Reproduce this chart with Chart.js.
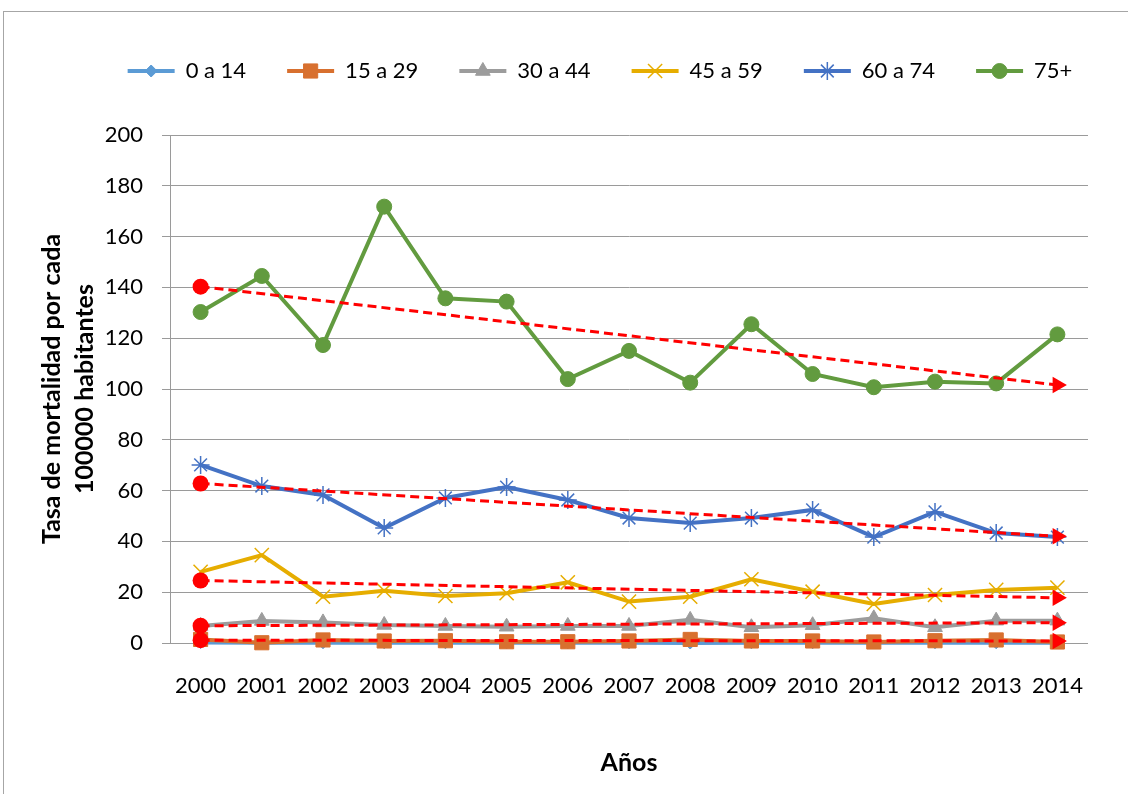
<!DOCTYPE html>
<html><head><meta charset="utf-8">
<script src="https://cdn.jsdelivr.net/npm/chart.js@4/dist/chart.umd.min.js"></script>
<style>html,body{margin:0;padding:0;background:#fff;}canvas{display:block;}</style>
</head><body>
<canvas id="c" width="1128" height="794"></canvas>
<script>
const years = ['2000','2001','2002','2003','2004','2005','2006','2007','2008','2009','2010','2011','2012','2013','2014'];
const seriesNames = ['0 a 14','15 a 29','30 a 44','45 a 59','60 a 74','75+'];
const age0_14  = [0.2,0.1,0.1,0.1,0.1,0.1,0.1,0.1,0.0,0.1,0.1,0.1,0.1,0.1,0.1];
const age15_29 = [1.4,0.1,1.2,0.8,0.9,0.5,0.5,0.8,1.4,0.8,0.8,0.4,0.9,1.2,0.4];
const age30_44 = [6.7,8.7,8.1,7.1,6.7,6.4,6.7,6.7,9.1,6.2,7.0,9.7,6.2,8.8,8.8];
const age45_59 = [28.0,34.6,18.2,20.6,18.5,19.6,23.9,16.3,18.2,25.1,20.2,15.4,18.9,20.9,21.8];
const age60_74 = [70.1,61.8,58.3,45.3,57.1,61.4,56.3,49.2,47.2,49.2,52.4,41.7,51.6,43.3,41.7];
const age75p   = [130.3,144.5,117.3,171.8,135.7,134.4,103.9,115.0,102.5,125.5,105.9,100.7,102.9,102.2,121.5];
// trend lines (15 a 29, 30 a 44, 45 a 59, 60 a 74, 75+): value at 2000 and at 2014
const trendStart = [1.1, 6.8, 24.6, 62.8, 140.3];
const trendEnd   = [0.8, 8.0, 17.8, 42.0, 101.6];
const yTicksMax = 200, yTicksStep = 20;

const seriesData = [age0_14, age15_29, age30_44, age45_59, age60_74, age75p];
const colors = ['#5B9BD5','#D8702F','#9C9C9C','#E6AD00','#4472C4','#629B3F'];
const styles = [
  {pointStyle:'rectRot', radius:6, bw:1},
  {pointStyle:'rect', radius:10, bw:1},
  {pointStyle:'triangle', radius:8.5, bw:1},
  {pointStyle:'crossRot', radius:10, bw:1.5},
  {pointStyle:'star', radius:9, bw:1.5},
  {pointStyle:'circle', radius:7.5, bw:1}
];
const FONT = 'Lato, "Open Sans", sans-serif';

const datasets = seriesData.map((d, i) => ({
  label: seriesNames[i],
  data: d,
  borderColor: colors[i],
  backgroundColor: colors[i],
  borderWidth: 4,
  pointStyle: styles[i].pointStyle,
  pointRadius: styles[i].radius,
  pointBorderWidth: styles[i].bw,
  pointBackgroundColor: colors[i],
  pointBorderColor: colors[i],
  tension: 0,
  clip: false,
  order: 6 - i
}));
trendStart.forEach((s, k) => {
  const arr = years.map(() => null);
  arr[0] = s; arr[years.length - 1] = trendEnd[k];
  datasets.push({
    label: 'trend' + k,
    data: arr,
    spanGaps: true,
    borderColor: '#FF0000',
    backgroundColor: '#FF0000',
    borderWidth: 3,
    borderDash: [9, 5],
    pointStyle: arr.map((v, j) => j === 0 ? 'circle' : 'triangle'),
    pointRadius: arr.map((v, j) => j === 0 ? 8 : 9.5),
    pointRotation: arr.map((v, j) => j === 0 ? 0 : 90),
    pointBackgroundColor: '#FF0000',
    pointBorderColor: '#FF0000',
    pointBorderWidth: 0,
    clip: false,
    order: 0
  });
});

const framePlugin = {
  id: 'frame',
  beforeDraw(chart) {
    const ctx = chart.ctx;
    ctx.save();
    ctx.fillStyle = '#fff';
    ctx.fillRect(0, 0, chart.width, chart.height);
    ctx.strokeStyle = '#A6A6A6';
    ctx.lineWidth = 1;
    ctx.strokeRect(3.5, 11.5, 1300, 900);
    ctx.restore();
  }
};
const legendMarkers = {
  id: 'legendMarkers',
  afterDraw(chart) {
    const lg = chart.legend;
    if (!lg || !lg.legendHitBoxes || !Chart.helpers || !Chart.helpers.drawPoint) return;
    const ctx = chart.ctx;
    const bw = lg.options.labels.boxWidth;
    lg.legendItems.forEach((item, i) => {
      const hb = lg.legendHitBoxes[i];
      const st = styles[item.datasetIndex];
      ctx.save();
      ctx.fillStyle = colors[item.datasetIndex];
      ctx.strokeStyle = colors[item.datasetIndex];
      ctx.lineWidth = st.bw;
      Chart.helpers.drawPoint(ctx, {pointStyle: st.pointStyle, radius: st.radius, rotation: 0, borderWidth: st.bw},
        hb.left + bw / 2, hb.top + hb.height / 2);
      ctx.restore();
    });
  }
};

new Chart(document.getElementById('c'), {
  type: 'line',
  data: { labels: years, datasets },
  plugins: [framePlugin, legendMarkers],
  options: {
    responsive: false,
    animation: false,
    devicePixelRatio: 1,
    layout: { padding: { left: 81, right: 9, top: 19, bottom: 0 } },
    plugins: {
      tooltip: { enabled: false },
      legend: {
        position: 'top',
        weight: 3000,
        labels: {
          font: { family: FONT, size: 22 },
          color: '#000',
          boxWidth: 47,
          boxHeight: 4,
          padding: 41,
          filter: (item) => item.datasetIndex < seriesNames.length,
          sort: (a, b) => a.datasetIndex - b.datasetIndex,
          generateLabels: (chart) => Chart.defaults.plugins.legend.labels.generateLabels(chart).map(l => {
            l.fillStyle = colors[l.datasetIndex] || '#f00';
            l.strokeStyle = colors[l.datasetIndex] || '#f00';
            l.lineWidth = 0;
            l.lineDash = [];
            return l;
          })
        }
      },
      title: {
        display: true,
        text: '',
        weight: 2000,
        font: { size: 10, lineHeight: 1.2 },
        padding: { top: 31, bottom: 0 }
      }
    },
    scales: {
      x: {
        offset: true,
        grid: { display: false },
        border: { display: false },
        ticks: { font: { family: FONT, size: 22 }, color: '#000', padding: 21.5, maxRotation: 0, autoSkip: false },
        title: {
          display: true, text: 'Años', color: '#000',
          font: { family: FONT, size: 25, weight: 'bold', lineHeight: 1.2 },
          padding: { top: 0, bottom: 16 }
        },
        afterFit: (s) => { s.height = 151; }
      },
      y: {
        min: 0, max: yTicksMax,
        ticks: { stepSize: yTicksStep, font: { family: FONT, size: 22 }, color: '#000', padding: 19 },
        grid: { color: '#9A9A9A', lineWidth: 1, tickLength: 8, drawTicks: true },
        border: { display: true, color: '#9A9A9A', width: 1 },
        title: {
          display: true, text: ['Tasa de mortalidad por cada', '100000 habitantes'], color: '#000',
          font: { family: FONT, size: 25, weight: 'bold', lineHeight: 33 / 25 },
          padding: { top: -45.5, bottom: 0 }
        },
        afterFit: (s) => { s.width = 89; }
      },
      yRightSpacer: {
        type: 'linear',
        position: 'right',
        display: true,
        min: 0, max: yTicksMax,
        ticks: { display: false },
        grid: { display: false, drawOnChartArea: false },
        border: { display: false },
        afterFit: (s) => { s.width = 31; }
      }
    }
  }
});
</script>
</body></html>
